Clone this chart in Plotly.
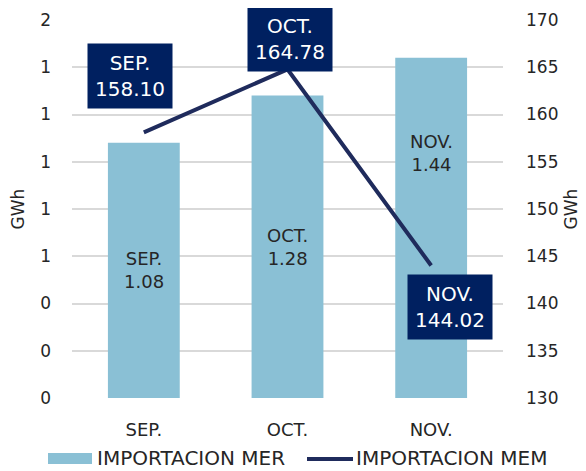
import plotly.graph_objects as go

months = ["SEP.", "OCT.", "NOV."]
mer_values = [1.08, 1.28, 1.44]
mem_values = [158.10, 164.78, 144.02]
left_ticks = [0, 0.2, 0.4, 0.6, 0.8, 1.0, 1.2, 1.4, 1.6]
left_tick_labels = ["0", "0", "0", "1", "1", "1", "1", "1", "2"]
right_ticks = [130, 135, 140, 145, 150, 155, 160, 165, 170]

FONT = "DejaVu Sans"
BAR_COLOR = "#8AC0D5"
LINE_COLOR = "#1F2B5C"
BOX_COLOR = "#002060"
TEXT_COLOR = "#262626"
TICK_FS = 17
LABEL_FS = 18
BOX_FS = 20
LEGEND_FS = 20

# page has an 8px body margin: figure drawn at (8, 8)
OFF = 8
W, H = 586 - OFF, 471 - OFF
ML, MT = 72 - OFF, 20 - OFF
MR = W - (503 - OFF)
MB = H - (398 - OFF)

fig = go.Figure()
fig.add_trace(go.Bar(x=months, y=mer_values, name="IMPORTACION MER",
                     marker=dict(color=BAR_COLOR, line=dict(width=0)),
                     yaxis="y", showlegend=False))
fig.add_trace(go.Scatter(x=months, y=mem_values, name="IMPORTACION MEM",
                         mode="lines", line=dict(color=LINE_COLOR, width=4),
                         yaxis="y2", showlegend=False))

# bar labels (inside bars)
bar_label_y = [0.54, 0.64, 1.036]
for m, v, ly in zip(months, mer_values, bar_label_y):
    fig.add_annotation(x=m, y=ly, xref="x", yref="y", showarrow=False,
                       text=f"{m}<br>{v:.2f}", font=dict(family=FONT, size=LABEL_FS, color=TEXT_COLOR),
                       align="center")

# line labels (boxes)
shifts = [(-14, 56), (2, 30), (19, -41)]
for m, v, (dx, dy) in zip(months, mem_values, shifts):
    fig.add_annotation(x=m, y=v, xref="x", yref="y2", showarrow=False,
                       xshift=dx, yshift=dy,
                       text=f"{m}<br>{v:.2f}", font=dict(family=FONT, size=BOX_FS, color="white"),
                       bgcolor=BOX_COLOR, borderpad=7, align="center")

# custom legend (pixel positions of the page converted to paper coords)
pw = W - ML - MR
ph = H - MT - MB
def px2x(px):
    return (px - OFF - ML) / pw
def py2y(py):
    return (H - MB - (py - OFF)) / ph

fig.add_shape(type="rect", xref="paper", yref="paper",
              x0=px2x(48), x1=px2x(92), y0=py2y(464), y1=py2y(453),
              fillcolor=BAR_COLOR, line=dict(width=0))
fig.add_annotation(xref="paper", yref="paper", x=px2x(95), y=py2y(458), xanchor="left",
                   yanchor="middle", showarrow=False, text="IMPORTACION MER",
                   font=dict(family=FONT, size=LEGEND_FS, color=TEXT_COLOR))
fig.add_shape(type="line", xref="paper", yref="paper",
              x0=px2x(307), x1=px2x(353), y0=py2y(459), y1=py2y(459),
              line=dict(color=LINE_COLOR, width=4))
fig.add_annotation(xref="paper", yref="paper", x=px2x(354), y=py2y(458), xanchor="left",
                   yanchor="middle", showarrow=False, text="IMPORTACION MEM",
                   font=dict(family=FONT, size=LEGEND_FS, color=TEXT_COLOR))

fig.update_layout(
    width=W, height=H,
    margin=dict(l=ML, r=MR, t=MT, b=MB, pad=0),
    plot_bgcolor="white", paper_bgcolor="white",
    bargap=0.5,
    font=dict(family=FONT, size=TICK_FS, color=TEXT_COLOR),
    xaxis=dict(showgrid=False, showline=False, ticks="", tickfont=dict(size=LABEL_FS, color=TEXT_COLOR),
               ticklabelstandoff=19, automargin=False),
    yaxis=dict(range=[0, 1.6], tickvals=left_ticks, ticktext=left_tick_labels,
               showgrid=True, gridcolor="#D9D9D9", gridwidth=1.5, zeroline=False,
               showline=False, ticks="", ticklabelstandoff=20, automargin=False,
               title=dict(text="GWh", font=dict(size=TICK_FS, color=TEXT_COLOR), standoff=14),
               tickfont=dict(size=TICK_FS, color=TEXT_COLOR)),
    yaxis2=dict(range=[130, 170], tickvals=right_ticks, overlaying="y", side="right",
                showgrid=False, zeroline=False, showline=False, ticks="",
                ticklabelstandoff=22, automargin=False,
                title=dict(text="GWh", font=dict(size=TICK_FS, color=TEXT_COLOR), standoff=7),
                tickfont=dict(size=TICK_FS, color=TEXT_COLOR)),
)

fig.write_html("out.html")
